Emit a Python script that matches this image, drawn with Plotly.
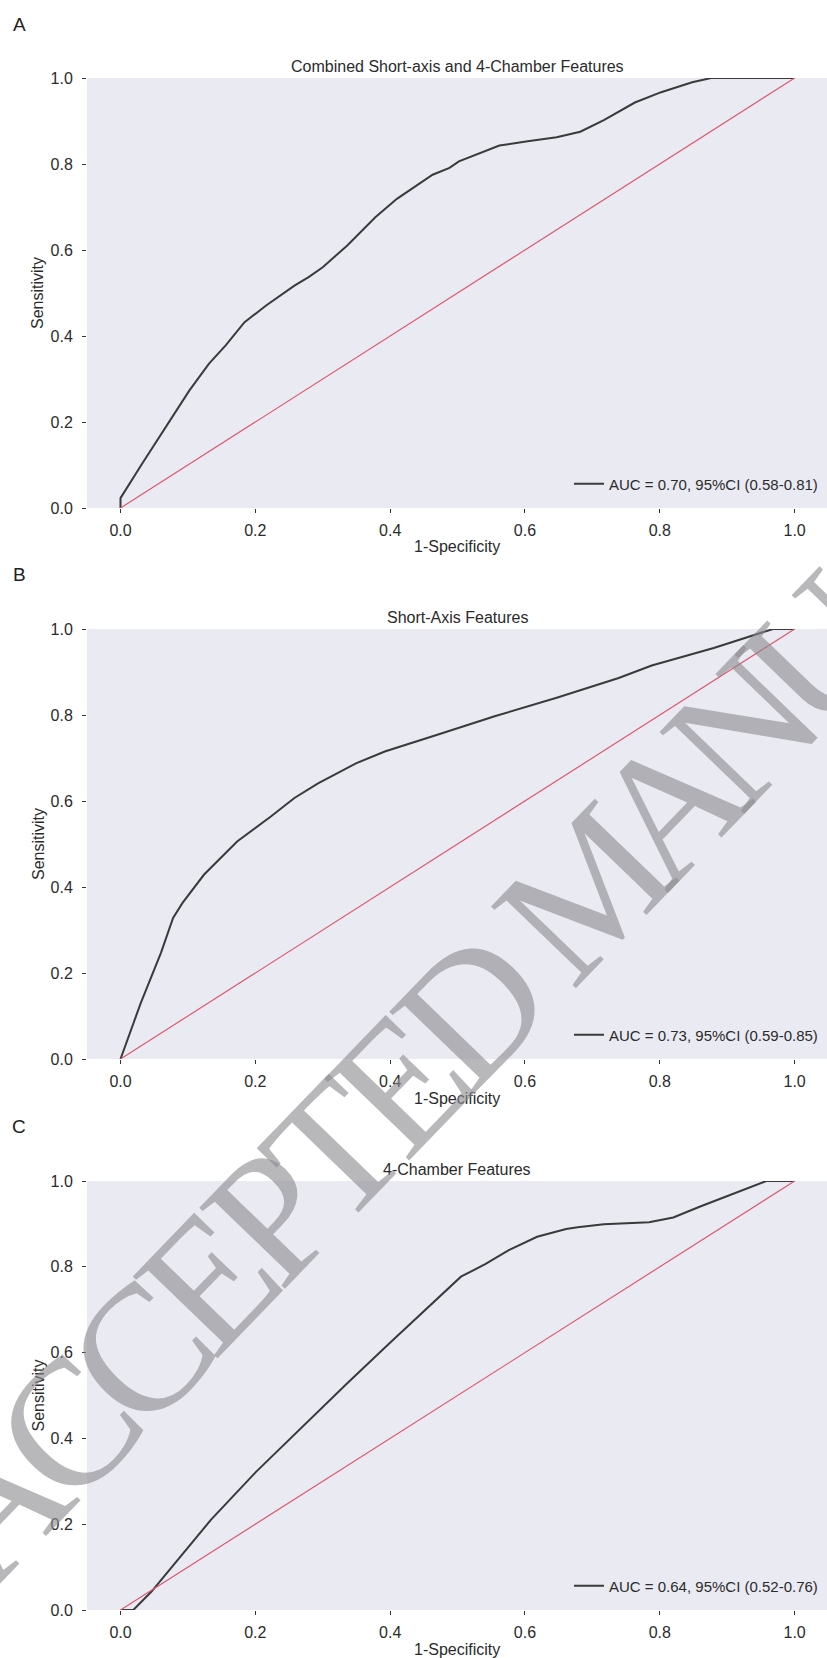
import math
import plotly.graph_objects as go

W, H = 827, 1658

# ---------------- data ----------------
fpr_a = [0, 0, 0.032, 0.067, 0.102, 0.131, 0.156, 0.184, 0.216, 0.258, 0.279, 0.300, 0.336,
         0.378, 0.410, 0.463, 0.488, 0.502, 0.562, 0.604, 0.647, 0.682, 0.717, 0.763, 0.802,
         0.848, 0.876, 1.0]
tpr_a = [0, 0.023, 0.103, 0.188, 0.273, 0.335, 0.378, 0.432, 0.471, 0.517, 0.537, 0.560, 0.610,
         0.676, 0.719, 0.775, 0.791, 0.806, 0.843, 0.853, 0.862, 0.875, 0.902, 0.943, 0.967,
         0.990, 1.0, 1.0]

fpr_b = [0, 0.030, 0.060, 0.078, 0.092, 0.124, 0.173, 0.223, 0.258, 0.293, 0.350, 0.392, 0.470,
         0.555, 0.647, 0.739, 0.788, 0.880, 0.968, 1.0]
tpr_b = [0, 0.130, 0.247, 0.328, 0.363, 0.429, 0.506, 0.564, 0.607, 0.641, 0.688, 0.715, 0.754,
         0.797, 0.840, 0.886, 0.915, 0.956, 1.0, 1.0]

fpr_c = [0, 0.019, 0.046, 0.081, 0.134, 0.201, 0.272, 0.336, 0.399, 0.463, 0.505, 0.541, 0.576,
         0.618, 0.661, 0.678, 0.717, 0.784, 0.820, 0.859, 0.908, 0.958, 1.0]
tpr_c = [0, 0, 0.043, 0.109, 0.210, 0.322, 0.431, 0.528, 0.622, 0.715, 0.777, 0.806, 0.839,
         0.870, 0.888, 0.892, 0.899, 0.904, 0.915, 0.940, 0.970, 1.0, 1.0]

chance = [0, 1]

panel_letters = ["A", "B", "C"]
panel_titles = ["Combined Short-axis and 4-Chamber Features", "Short-Axis Features",
                "4-Chamber Features"]
auc_labels = ["AUC = 0.70, 95%CI (0.58-0.81)", "AUC = 0.73, 95%CI (0.59-0.85)",
              "AUC = 0.64, 95%CI (0.52-0.76)"]
tick_vals = [0.0, 0.2, 0.4, 0.6, 0.8, 1.0]
x_label = "1-Specificity"
y_label = "Sensitivity"
watermark = "ACCEPTED MANU"   # visible part of the "ACCEPTED MANUSCRIPT" stamp

curves = [(fpr_a, tpr_a), (fpr_b, tpr_b), (fpr_c, tpr_c)]

# ---------------- layout geometry (pixels) ----------------
plot_left, plot_right = 87, 827
panel_px = [(78, 508), (629, 1059), (1181, 1610)]   # top, bottom of each plot area
letter_y = [24, 575, 1126]

FONT = "Liberation Sans, Arial, sans-serif"
TXT = "#2b2b2b"
BG = "#EAEAF2"
CURVE = "#3a3a3a"
DIAG = "#dc5a6e"

fig = go.Figure()
layout = dict(
    width=W, height=H, margin=dict(l=0, r=0, t=0, b=0),
    paper_bgcolor="white", plot_bgcolor=BG,
    font=dict(family=FONT, size=16, color=TXT),
    showlegend=True,
)
annotations = []

for i, ((fx, ty), (top, bot)) in enumerate(zip(curves, panel_px)):
    sfx = "" if i == 0 else str(i + 1)
    xa, ya = "x" + sfx, "y" + sfx
    leg = "legend" + sfx
    fig.add_trace(go.Scatter(x=fx, y=ty, mode="lines", name=auc_labels[i],
                             line=dict(color=CURVE, width=2), xaxis=xa, yaxis=ya,
                             legend=leg, showlegend=True))
    fig.add_trace(go.Scatter(x=chance, y=chance, mode="lines",
                             line=dict(color=DIAG, width=1.2), xaxis=xa, yaxis=ya,
                             showlegend=False))
    ydom = [1 - bot / H, 1 - top / H]
    axis_common = dict(
        showgrid=False, zeroline=False, showline=False,
        ticks="outside", ticklen=4, tickwidth=1.2, tickcolor="#333333",
        tickvals=tick_vals, tickformat=".1f",
        tickfont=dict(family=FONT, size=16, color=TXT), automargin=False,
    )
    layout["xaxis" + sfx] = dict(axis_common, domain=[plot_left / W, plot_right / W],
                                  range=[-0.0497, 1.048], anchor=ya, ticklabelstandoff=4)
    layout["yaxis" + sfx] = dict(axis_common, domain=ydom, range=[0, 1], anchor=xa,
                                  ticklabelstandoff=6)
    layout[leg] = dict(
        x=823 / W, xanchor="right", y=1 - (bot - 24) / H, yanchor="middle",
        bgcolor="rgba(0,0,0,0)", borderwidth=0,
        font=dict(family=FONT, size=15, color=TXT),
    )
    annotations.append(dict(text=panel_titles[i], xref=xa + " domain", yref=ya + " domain",
                            x=0.5, y=1, xanchor="center", yanchor="bottom", yshift=1,
                            showarrow=False, font=dict(family=FONT, size=16, color=TXT)))
    annotations.append(dict(text=x_label, xref=xa + " domain", yref=ya + " domain",
                            x=(457 - plot_left) / (plot_right - plot_left), y=0,
                            xanchor="center", yanchor="middle", yshift=-39,
                            showarrow=False, font=dict(family=FONT, size=16, color=TXT)))
    annotations.append(dict(text=y_label, xref="paper", yref=ya + " domain",
                            x=38 / W, y=0.5, xanchor="center", yanchor="middle",
                            textangle=-90, showarrow=False,
                            font=dict(family=FONT, size=16, color=TXT)))
    annotations.append(dict(text=panel_letters[i], xref="paper", yref="paper",
                            x=19 / W, y=1 - letter_y[i] / H, xanchor="center",
                            yanchor="middle", showarrow=False,
                            font=dict(family=FONT, size=19, color="#222222")))

# ---------------- watermark stamp, laid out letter by letter ----------------
# per-glyph advance (em) along the slanted baseline
adv = [.722, .667, .667, .611, .556, .611, .611, .722, .25, .86, .70, .68, .722]
wm_angle = 46.0
wm_spacing = 155
wm_size = 180
ref_index, ref_xy = 2, (140, 1352)   # centre of the second "C" in page pixels
dx, dy = math.cos(math.radians(wm_angle)), -math.sin(math.radians(wm_angle))
centres, pos = [], 0.0
for a in adv:
    centres.append(pos + a / 2)
    pos += a
for k, ch in enumerate(watermark):
    if ch == " ":
        continue
    s = (centres[k] - centres[ref_index]) * wm_spacing
    px, py = ref_xy[0] + s * dx, ref_xy[1] + s * dy
    annotations.append(dict(text=ch, xref="paper", yref="paper",
                            x=px / W, y=1 - py / H,
                            xanchor="center", yanchor="middle", textangle=-wm_angle,
                            showarrow=False,
                            font=dict(family="Liberation Serif, Times New Roman, serif",
                                      size=wm_size, color="rgba(140,140,145,0.62)")))

layout["annotations"] = annotations
fig.update_layout(**layout)

fig.write_html("out.html", config={"displayModeBar": False},
               post_script="document.body.style.margin='0';")
